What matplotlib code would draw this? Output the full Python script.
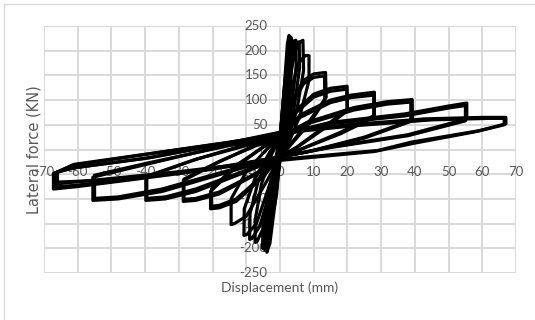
import matplotlib
matplotlib.use("Agg")
import matplotlib.pyplot as plt
from matplotlib.lines import Line2D

# hysteresis loops, one list per cycle
# displacement (mm)
disp_loops = [
    [0, 1.0, 1.6, 1.2, 0, -1.0, -1.8, -1.3, 0],
    [0, 1.2, 2.2, 2.7, 2.9, 2.4, 1.0, 0, -1.5, -3.0, -3.9, -3.7, -2.5, -1.0, 0],
    [0, 1.3, 2.6, 3.1, 3.3, 2.7, 1.1, 0, -1.6, -3.5, -4.5, -4.3, -2.8, -1.1, 0],
    [0, 1.4, 2.8, 3.4, 3.6, 3.0, 1.2, 0, -1.8, -4.2, -5.2, -5.0, -3.2, -1.2, 0],
    [0, 1.5, 3.2, 4.2, 4.7, 4.8, 3.5, 1.5, 0, -2.0, -5.0, -6.8, -7.4, -7.3, -5.5, -2.5, 0],
    [0, 1.8, 3.8, 5.2, 5.7, 5.8, 4.2, 1.8, 0, -2.5, -6.0, -8.3, -9.0, -8.9, -6.5, -2.8, 0],
    [0, 2.0, 4.5, 6.0, 6.8, 7.0, 5.0, 2.0, 0, -3.0, -7.0, -9.8, -10.7, -10.6, -7.5, -3.0, 0],
    [0, 2.5, 5.5, 7.5, 8.6, 8.6, 6.0, 2.5, 0, -4.0, -10.0, -13.5, -14.5, -14.5, -10.0, -4.0, 0],
    [0, 3.0, 7.0, 10.0, 13.5, 13.7, 9.0, 3.0, 0, -5.0, -13.0, -18.0, -20.6, -20.6, -13.0, -5.0, 0],
    [0, 3.0, 7.0, 10.0, 13.2, 13.3, 9.0, 3.0, 0, -5.0, -13.0, -18.0, -20.3, -20.3, -13.0, -5.0, 0],
    [0, 4.0, 10.0, 15.0, 19.9, 20.0, 13.0, 5.0, 0, -7.0, -18.0, -25.0, -28.7, -28.7, -18.0, -7.0, 0],
    [0, 4.0, 10.0, 15.0, 19.8, 19.9, 13.0, 5.0, 0, -7.0, -18.0, -25.0, -28.5, -28.5, -18.0, -7.0, 0],
    [0, 6.0, 15.0, 21.0, 28.0, 28.0, 18.0, 6.0, 0, -10.0, -25.0, -34.0, -39.8, -39.8, -25.0, -10.0, 0],
    [0, 6.0, 15.0, 21.0, 27.8, 27.8, 18.0, 6.0, 0, -10.0, -25.0, -34.0, -39.5, -39.5, -25.0, -10.0, 0],
    [0, 8.0, 22.0, 32.0, 39.2, 39.3, 25.0, 8.0, 0, -15.0, -35.0, -48.0, -55.5, -55.5, -39.0, -15.0, 0],
    [0, 8.0, 22.0, 32.0, 38.8, 38.8, 25.0, 8.0, 0, -15.0, -35.0, -48.0, -55.0, -55.0, -39.0, -15.0, 0],
    [0, 15.0, 37.0, 50.0, 55.4, 55.4, 38.0, 15.0, 0, -20.0, -45.0, -60.0, -67.2, -67.2, -61.6, -30.0, 0],
    [0, 15.0, 37.0, 50.0, 55.0, 55.0, 38.0, 15.0, 0, -20.0, -45.0, -60.0, -66.5, -66.5, -61.0, -30.0, 0],
    [0, 20.0, 43.0, 60.0, 67.0, 67.0, 59.0, 39.0, 29.0, 0, -30.0, -55.0, -67.0, -67.0, -62.0, -40.0, -12.0, 0],
    [0, 22.0, 45.0, 62.0, 66.5, 66.5, 58.0, 40.0, 28.0, 0, -28.0, -52.0, -66.0, -66.0, -60.0, -38.0, -10.0, 0],
]

# lateral force (kN)
force_loops = [
    [0, 90, 125, 60, -10, -90, -120, -50, 10],
    [20, 120, 215, 231, 200, 120, 30, -20, -110, -190, -208, -170, -90, -20, 20],
    [22, 125, 212, 228, 195, 115, 28, -20, -105, -188, -204, -160, -85, -18, 22],
    [25, 130, 210, 226, 190, 110, 25, -20, -100, -185, -200, -150, -80, -15, 25],
    [25, 120, 200, 220, 221, 170, 90, 20, -15, -80, -160, -186, -188, -140, -70, -10, 25],
    [25, 115, 200, 217, 218, 165, 85, 18, -15, -75, -155, -180, -182, -130, -65, -8, 25],
    [25, 110, 200, 218, 221, 160, 80, 15, -15, -70, -150, -172, -174, -120, -60, -5, 25],
    [25, 100, 175, 190, 190, 140, 70, 12, -15, -65, -135, -150, -152, -100, -45, 0, 25],
    [25, 90, 140, 153, 156, 106, 60, 10, -15, -55, -105, -118, -120, -85, -35, 5, 25],
    [22, 85, 133, 146, 149, 100, 55, 8, -15, -52, -100, -113, -115, -80, -32, 5, 22],
    [25, 75, 112, 124, 128, 82, 45, 5, -15, -50, -90, -103, -105, -63, -25, 10, 25],
    [22, 70, 106, 118, 122, 78, 42, 4, -15, -48, -86, -99, -101, -60, -24, 8, 22],
    [25, 70, 100, 110, 116, 69, 35, 0, -15, -45, -85, -100, -103, -56, -20, 10, 25],
    [22, 65, 95, 105, 110, 65, 32, 0, -15, -42, -80, -96, -99, -54, -20, 8, 22],
    [25, 55, 85, 97, 101, 60, 25, -5, -15, -45, -85, -100, -103, -56, -29, 10, 25],
    [22, 52, 80, 92, 96, 57, 23, -5, -15, -42, -80, -96, -99, -52, -27, 8, 22],
    [30, 55, 72, 88, 94, 62, 30, 5, -15, -40, -62, -75, -80, -49, -32, 0, 30],
    [28, 52, 68, 84, 89, 58, 28, 4, -15, -38, -60, -72, -76, -47, -30, 0, 28],
    [35, 50, 62, 65, 65, 52, 38, 15, -2, -20, -45, -62, -70, -48, -38, -18, 18, 35],
    [33, 48, 60, 63, 63, 50, 36, 13, -4, -22, -45, -62, -66, -45, -36, -16, 20, 33],
]

x_ticks = [-70, -60, -50, -40, -30, -20, -10, 0, 10, 20, 30, 40, 50, 60, 70]
y_ticks = [-250, -200, -150, -100, -50, 0, 50, 100, 150, 200, 250]

GRAY = "#595959"
GRID = "#d9d9d9"

fig = plt.figure(figsize=(5.35, 3.2), dpi=100)
ax = fig.add_axes([44 / 535, 1 - 273 / 320, 472 / 535, 247 / 320])

for xs, ys in zip(disp_loops, force_loops):
    ax.plot(xs, ys, color="black", lw=2.3, solid_joinstyle="round", zorder=3)

ax.set_xlim(-70, 70)
ax.set_ylim(-250, 250)
ax.set_xticks(x_ticks)
ax.set_yticks(y_ticks)
ax.grid(True, color=GRID, lw=1.4, zorder=0)
ax.set_axisbelow(True)
for s in ax.spines.values():
    s.set_visible(False)
ax.tick_params(length=0, labelbottom=False, labelleft=False)

# tick labels sit next to the zero lines, like excel does it
for v in x_ticks:
    ax.annotate(str(v), (v, 0), xytext=(0, -16.5), textcoords="offset points",
                ha="center", va="center", fontsize=9.5, color=GRAY,
                family="Lato", annotation_clip=False, zorder=2)
for v in y_ticks:
    ax.annotate(str(v), (0, v), xytext=(-9, 0), textcoords="offset points",
                ha="right", va="center", fontsize=9.5, color=GRAY,
                family="Lato", annotation_clip=False, zorder=2)

fig.text(34 / 535, 1 - 150 / 320, "Lateral force (KN)", rotation=90,
         ha="center", va="center", fontsize=10.5, color=GRAY,
         family="DejaVu Sans")
fig.text(280 / 535, 1 - 288 / 320, "Displacement (mm)", ha="center",
         va="center", fontsize=10, color=GRAY, family="Lato")

# chart area border (only top and left show in the crop)
fig.add_artist(Line2D([4 / 535, 4 / 535], [0, 1 - 4 / 320], color=GRID, lw=1))
fig.add_artist(Line2D([4 / 535, 1], [1 - 4 / 320, 1 - 4 / 320], color=GRID, lw=1))

fig.savefig("out.png", dpi=100, facecolor="white")
